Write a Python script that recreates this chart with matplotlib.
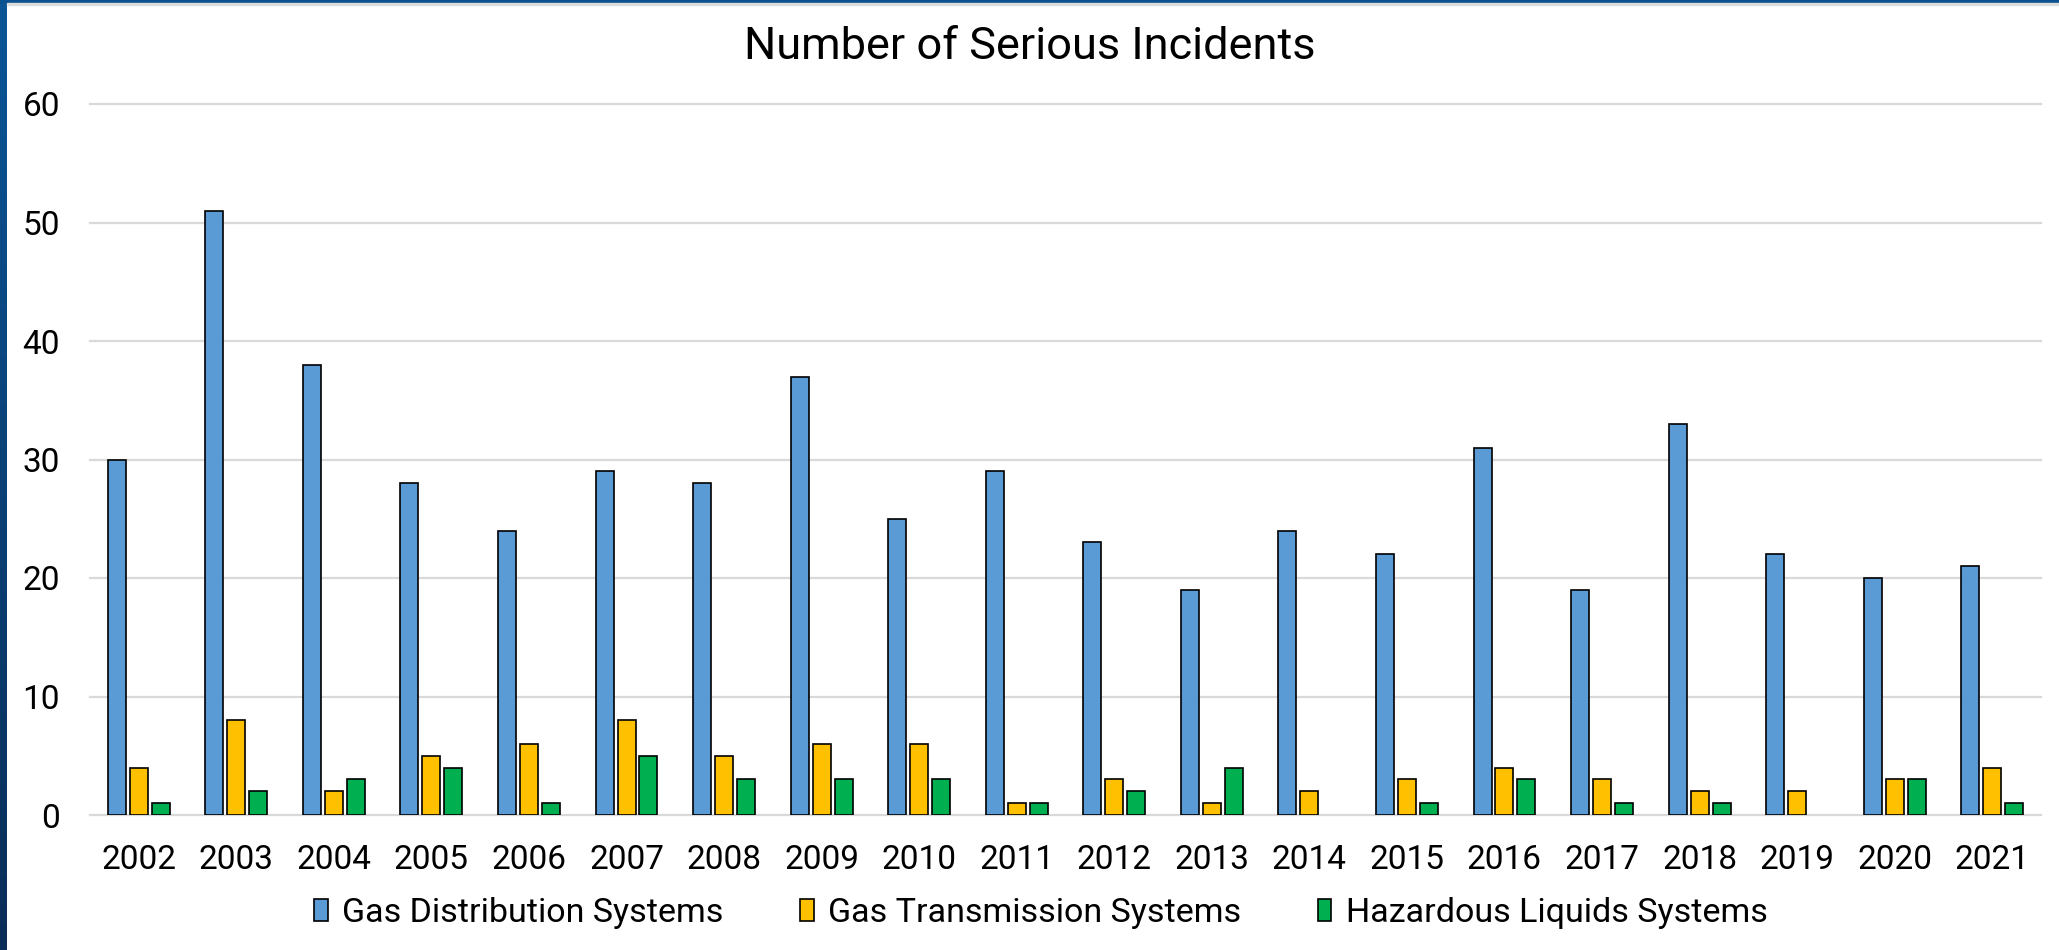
import matplotlib
matplotlib.use("Agg")
import matplotlib.pyplot as plt
import numpy as np
from matplotlib.patches import Rectangle
from matplotlib.colors import LinearSegmentedColormap

plt.rcParams['font.family'] = ['Roboto', 'DejaVu Sans']

years = ['2002', '2003', '2004', '2005', '2006', '2007', '2008', '2009', '2010', '2011',
         '2012', '2013', '2014', '2015', '2016', '2017', '2018', '2019', '2020', '2021']
gas_distribution = [30, 51, 38, 28, 24, 29, 28, 37, 25, 29, 23, 19, 24, 22, 31, 19, 33, 22, 20, 21]
gas_transmission = [4, 8, 2, 5, 6, 8, 5, 6, 6, 1, 3, 1, 2, 3, 4, 3, 2, 2, 3, 4]
hazardous_liquids = [1, 2, 3, 4, 1, 5, 3, 3, 3, 1, 2, 4, 0, 1, 3, 1, 1, 0, 3, 1]
series_names = ['Gas Distribution Systems', 'Gas Transmission Systems', 'Hazardous Liquids Systems']
colors = ['#5B9BD5', '#FFC000', '#00B050']
yticks = [0, 10, 20, 30, 40, 50, 60]

W, H = 2059, 950
fig = plt.figure(figsize=(W / 100, H / 100), dpi=100)
fig.patch.set_facecolor('white')

ax = fig.add_axes([90 / W, (H - 815) / H, 1951 / W, 711 / H])
x = np.arange(len(years))
offsets = [-0.225, 0.0, 0.225]
for vals, off, c, name in zip([gas_distribution, gas_transmission, hazardous_liquids],
                              offsets, colors, series_names):
    bars = ax.bar(x + off, vals, width=0.185, color=c, edgecolor='black', linewidth=1.2,
                  label=name, zorder=3)
    for b, v in zip(bars, vals):
        if v == 0:
            b.set_visible(False)

ax.set_xlim(-0.5, len(years) - 0.5)
ax.set_ylim(0, 60)
ax.set_yticks(yticks)
ax.set_xticks(x)
ax.set_xticklabels(years)
ax.tick_params(axis='both', length=0, labelsize=24, colors='black')
ax.tick_params(axis='y', pad=21.5)
ax.tick_params(axis='x', pad=21)
ax.yaxis.grid(True, color='#D9D9D9', linewidth=1.6, zorder=0)
ax.set_axisbelow(True)
for s in ax.spines.values():
    s.set_visible(False)
for yl in ax.get_ygridlines():
    yl.set_clip_on(False)

fig.text(0.5, (H - 47) / H, 'Number of Serious Incidents', ha='center', va='center',
         fontsize=32.5, color='black')

leg = fig.legend(loc='center', bbox_to_anchor=(1041 / W, (H - 913) / H), ncol=3,
                 frameon=False, fontsize=24.5, handlelength=0.4, handleheight=0.65,
                 handletextpad=0.42, columnspacing=2.25)

# border decorations
bax = fig.add_axes([0, 0, 7 / W, 1])
grad = np.linspace(0, 1, 256).reshape(-1, 1)
cmap = LinearSegmentedColormap.from_list('b', ['#0A5597', '#0B2D57'])
bax.imshow(grad, aspect='auto', cmap=cmap, extent=[0, 1, 0, 1], origin='upper')
bax.axis('off')
fig.add_artist(Rectangle((0, (H - 3) / H), 1, 3 / H, transform=fig.transFigure,
                         color='#0A5190', zorder=10))
fig.add_artist(Rectangle((7 / W, (H - 5) / H), 1, 2 / H, transform=fig.transFigure,
                         color='#DDDDDD', zorder=10))

fig.savefig('out.png', dpi=100)
